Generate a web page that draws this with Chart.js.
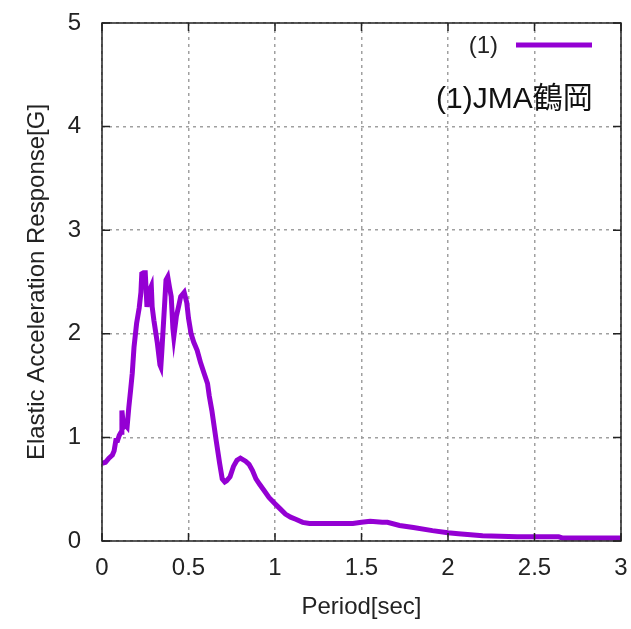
<!DOCTYPE html>
<html>
<head>
<meta charset="utf-8">
<script src="https://cdn.jsdelivr.net/npm/chart.js@4/dist/chart.umd.min.js"></script>
<style>
  body { margin: 0; background: #fff; }
  #wrap { width: 631px; height: 629px; }
</style>
</head>
<body>
<div id="wrap"><canvas id="chart" width="631" height="629"></canvas></div>
<script>
// Spectrum
const periods = [
  0.00, 0.02, 0.04, 0.06, 0.07, 0.08, 0.09, 0.10, 0.11, 0.115,
  0.125, 0.135, 0.145, 0.155, 0.165, 0.175, 0.185, 0.20, 0.215, 0.225,
  0.23, 0.24, 0.25, 0.26, 0.27, 0.285, 0.29, 0.30, 0.32, 0.335,
  0.34, 0.345, 0.36, 0.37, 0.38, 0.39, 0.40, 0.41, 0.415, 0.43,
  0.445, 0.455, 0.475, 0.49, 0.50, 0.515, 0.53, 0.55, 0.57, 0.59,
  0.61, 0.62, 0.635, 0.66, 0.68, 0.695, 0.71, 0.72, 0.74, 0.76,
  0.78, 0.80, 0.83, 0.85, 0.87, 0.89, 0.91, 0.94, 0.965, 1.00,
  1.03, 1.06, 1.09, 1.12, 1.16, 1.20, 1.30, 1.45, 1.50, 1.55,
  1.62, 1.65, 1.72, 1.80, 1.91, 2.00, 2.06, 2.20, 2.40, 2.64,
  2.66, 3.00
];
const accel = [
  0.75, 0.76, 0.80, 0.83, 0.87, 0.97, 0.97, 1.02, 1.05, 1.26,
  1.10, 1.12, 1.10, 1.29, 1.45, 1.62, 1.87, 2.10, 2.25, 2.40,
  2.58, 2.59, 2.59, 2.26, 2.40, 2.46, 2.26, 2.13, 1.91, 1.70,
  1.68, 1.81, 2.23, 2.52, 2.55, 2.45, 2.36, 2.05, 1.97, 2.17,
  2.28, 2.36, 2.40, 2.30, 2.15, 2.00, 1.92, 1.84, 1.72, 1.62,
  1.52, 1.40, 1.26, 0.97, 0.75, 0.60, 0.57, 0.58, 0.62, 0.72,
  0.78, 0.80, 0.77, 0.74, 0.68, 0.60, 0.55, 0.48, 0.42, 0.36,
  0.31, 0.26, 0.23, 0.21, 0.18, 0.17, 0.17, 0.17, 0.18, 0.19,
  0.18, 0.18, 0.15, 0.13, 0.10, 0.08, 0.07, 0.05, 0.04, 0.04,
  0.03, 0.03
];
const xTicks = [0, 0.5, 1, 1.5, 2, 2.5, 3];
const yTicks = [0, 1, 2, 3, 4, 5];

const seriesLabel = "(1)";
const stationNote = "(1)JMA鶴岡";
const lineColor = "#9400d3";
const fontFamily = "'Liberation Sans', Arial, 'Noto Sans CJK JP', sans-serif";

const points = periods.map((p, i) => ({ x: p, y: accel[i] }));

// gnuplot style frame, inward ticks on all sides, key and note
const framePlugin = {
  id: "frame",
  afterDraw(chart) {
    const { ctx, chartArea: a, scales } = chart;
    ctx.save();
    ctx.strokeStyle = "#222";
    ctx.lineWidth = 1.5;
    ctx.strokeRect(a.left, a.top, a.right - a.left, a.bottom - a.top);
    const t = 8;
    ctx.beginPath();
    xTicks.forEach(v => {
      const x = scales.x.getPixelForValue(v);
      ctx.moveTo(x, a.bottom); ctx.lineTo(x, a.bottom - t);
      ctx.moveTo(x, a.top); ctx.lineTo(x, a.top + t);
    });
    yTicks.forEach(v => {
      const y = scales.y.getPixelForValue(v);
      ctx.moveTo(a.left, y); ctx.lineTo(a.left + t, y);
      ctx.moveTo(a.right, y); ctx.lineTo(a.right - t, y);
    });
    ctx.stroke();

    // key
    ctx.fillStyle = "#222";
    ctx.font = "24px " + fontFamily;
    ctx.textAlign = "right";
    ctx.textBaseline = "middle";
    ctx.fillText(seriesLabel, 498, 46);
    ctx.strokeStyle = lineColor;
    ctx.lineWidth = 5;
    ctx.beginPath();
    ctx.moveTo(516, 45); ctx.lineTo(592, 45);
    ctx.stroke();

    // station note
    ctx.fillStyle = "#111";
    ctx.font = "30px " + fontFamily;
    ctx.textAlign = "left";
    ctx.textBaseline = "alphabetic";
    ctx.fillText(stationNote, 436, 108);
    ctx.restore();
  }
};

const ctx = document.getElementById("chart").getContext("2d");
new Chart(ctx, {
  type: "line",
  data: {
    datasets: [{
      label: seriesLabel,
      data: points,
      borderColor: lineColor,
      borderWidth: 5,
      pointRadius: 0,
      tension: 0,
      fill: false
    }]
  },
  options: {
    responsive: false,
    animation: false,
    devicePixelRatio: 1,
    layout: { padding: { top: 23, right: 10, left: 0, bottom: 0 } },
    plugins: { legend: { display: false }, tooltip: { enabled: false } },
    scales: {
      x: {
        type: "linear",
        min: 0, max: 3,
        afterBuildTicks: s => { s.ticks = xTicks.map(v => ({ value: v })); },
        afterFit: s => { s.height = 88; s.paddingLeft = 0; s.paddingRight = 0; },
        grid: { color: "#a0a0a0", lineWidth: 1.5, drawTicks: false },
        border: { display: false, dash: [3, 4] },
        ticks: {
          padding: 13, color: "#222", maxRotation: 0,
          font: { family: fontFamily, size: 24 },
          callback: v => String(v)
        },
        title: {
          display: true, text: "Period[sec]", color: "#222",
          font: { family: fontFamily, size: 24 },
          padding: { top: 0, bottom: 7 }
        }
      },
      y: {
        min: 0, max: 5,
        afterBuildTicks: s => { s.ticks = yTicks.map(v => ({ value: v })); },
        afterFit: s => { s.width = 102; s.paddingTop = 0; s.paddingBottom = 0; },
        grid: { color: "#a0a0a0", lineWidth: 1.5, drawTicks: false },
        border: { display: false, dash: [3, 4] },
        ticks: {
          padding: 21, color: "#222",
          font: { family: fontFamily, size: 24 },
          callback: v => String(v)
        },
        title: {
          display: true, text: "Elastic Acceleration Response[G]", color: "#222",
          font: { family: fontFamily, size: 24 },
          padding: { top: 23, bottom: 0 }
        }
      }
    }
  },
  plugins: [framePlugin]
});
</script>
</body>
</html>
